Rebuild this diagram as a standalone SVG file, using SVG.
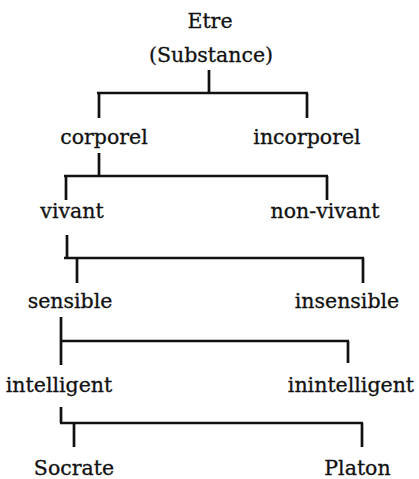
<svg xmlns="http://www.w3.org/2000/svg" width="419" height="479" viewBox="0 0 419 479">
  <style>
    text { font-family: "DejaVu Serif", "Liberation Serif", serif; font-size: 20.5px; fill: #111; stroke: #111; stroke-width: 0.3; text-anchor: middle; }
    .link { fill: none; stroke: #111; stroke-width: 2.7; stroke-linecap: butt; }
  </style>
  <rect width="419" height="479" fill="#fff"/>

  <!-- tree branches -->
  <g id="connectors">
    <path class="link" d="M209,70 V93 M97,93 H308 M99,93 V118 M307,93 V118"/>
    <path class="link" d="M99,153 V176 M64,176 H328 M66,176 V200 M327,176 V200"/>
    <path class="link" d="M67,235 V258 M64,258 H364 M77,258 V283 M363,258 V283"/>
    <path class="link" d="M61,317 V365 M61,341 H349 M348,341 V363"/>
    <path class="link" d="M61,407 V423 M60,423 H363 M74,423 V447 M362,423 V447"/>
  </g>

  <g id="etre"><text x="210" y="28">Etre</text><text x="211" y="62">(Substance)</text></g>
  <g id="corporel"><text x="104" y="144">corporel</text></g>
  <g id="incorporel"><text x="307" y="144">incorporel</text></g>
  <g id="vivant"><text x="72" y="218">vivant</text></g>
  <g id="non-vivant"><text x="325" y="218">non-vivant</text></g>
  <g id="sensible"><text x="70" y="308">sensible</text></g>
  <g id="insensible"><text x="347" y="308">insensible</text></g>
  <g id="intelligent"><text x="59" y="392">intelligent</text></g>
  <g id="inintelligent"><text x="351" y="392">inintelligent</text></g>
  <g id="socrate"><text x="74" y="475">Socrate</text></g>
  <g id="platon"><text x="357.5" y="475">Platon</text></g>
</svg>
